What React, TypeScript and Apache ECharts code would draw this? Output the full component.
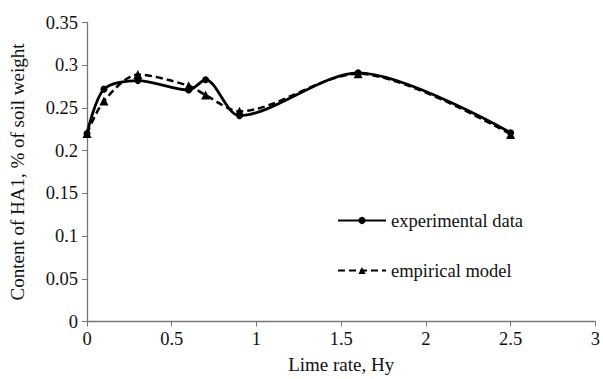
import React, { useEffect, useRef } from "react";
import * as echarts from "echarts";

const limeRate = [0, 0.1, 0.3, 0.6, 0.7, 0.9, 1.6, 2.5];
const experimental = [0.22, 0.272, 0.282, 0.271, 0.283, 0.241, 0.291, 0.221];
const empirical = [0.22, 0.258, 0.289, 0.276, 0.265, 0.246, 0.29, 0.219];
const xTicks = [0, 0.5, 1, 1.5, 2, 2.5, 3];
const yTicks = [0, 0.05, 0.1, 0.15, 0.2, 0.25, 0.3, 0.35];

const FONT = "'Liberation Serif', 'Times New Roman', serif";

export default function App() {
  const ref = useRef<HTMLDivElement>(null);
  useEffect(() => {
    if (!ref.current) return;
    const chart = echarts.init(ref.current, undefined, { renderer: "svg" });
    chart.setOption({
      animation: false,
      backgroundColor: "#fff",
      textStyle: { fontFamily: FONT },
      grid: { left: 87, right: 5, top: 22.5, bottom: 57.5 },
      legend: {
        orient: "vertical",
        left: 332,
        top: 206,
        itemWidth: 48,
        itemHeight: 9,
        itemGap: 31,
        textStyle: { fontFamily: FONT, fontSize: 18.5, color: "#111", padding: [0, 0, 0, 0] },
        data: ["experimental data", "empirical model"],
      },
      xAxis: {
        type: "value",
        min: 0,
        max: 3,
        interval: 0.5,
        name: "Lime rate, Hy",
        nameLocation: "middle",
        nameGap: 33,
        nameTextStyle: { fontFamily: FONT, fontSize: 19, color: "#111" },
        axisLine: { lineStyle: { color: "#777", width: 1.3 } },
        axisTick: { show: true, length: 5, lineStyle: { color: "#777" } },
        axisLabel: {
          fontFamily: FONT,
          fontSize: 18.5,
          color: "#111",
          margin: 8,
          formatter: (v: number) => (xTicks.includes(v) ? String(v) : ""),
        },
        splitLine: { show: false },
      },
      yAxis: {
        type: "value",
        min: 0,
        max: 0.35,
        interval: 0.05,
        name: "Content of HA1, % of soil weight",
        nameLocation: "middle",
        nameGap: 60,
        nameTextStyle: { fontFamily: FONT, fontSize: 19, color: "#111" },
        axisLine: { show: true, lineStyle: { color: "#777", width: 1.3 } },
        axisTick: { show: true, length: 5, lineStyle: { color: "#777" } },
        axisLabel: {
          fontFamily: FONT,
          fontSize: 18.5,
          color: "#111",
          margin: 9,
          formatter: (v: number) => {
            const r = Math.round(v * 100) / 100;
            return yTicks.some((t) => Math.abs(t - r) < 1e-9) ? String(r) : "";
          },
        },
        splitLine: { show: false },
      },
      series: [
        {
          name: "experimental data",
          type: "line",
          smooth: 0.3,
          data: limeRate.map((x, i) => [x, experimental[i]]),
          symbol: "circle",
          symbolSize: 7,
          itemStyle: { color: "#000" },
          lineStyle: { color: "#000", width: 2.8 },
          z: 3,
        },
        {
          name: "empirical model",
          type: "line",
          smooth: 0.3,
          data: limeRate.map((x, i) => [x, empirical[i]]),
          symbol: "triangle",
          symbolSize: 9,
          itemStyle: { color: "#000" },
          lineStyle: { color: "#000", width: 2.5, type: [7, 4] },
          z: 2,
        },
      ],
    });
    return () => chart.dispose();
  }, []);
  return <div ref={ref} style={{ width: 603, height: 379, position: "absolute", left: 0, top: 0 }} />;
}
